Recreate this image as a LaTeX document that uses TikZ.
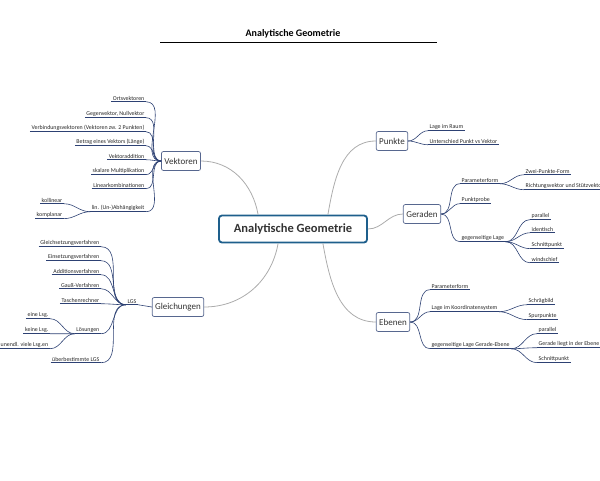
\documentclass[tikz,border=0pt]{standalone}
\usepackage{fontspec}
\setmainfont{Carlito}
\usetikzlibrary{positioning}
\definecolor{lineblue}{RGB}{45,65,115}
\definecolor{boxblue}{RGB}{30,95,140}
\tikzset{
  topic/.style={draw=lineblue!80, line width=0.7pt, rounded corners=2pt, fill=white, font=\fontsize{9}{10}\selectfont, inner sep=3pt, minimum height=19pt, text=black!80},
  uline/.style={draw=lineblue, line width=0.9pt},
  leaf/.style={font=\fontsize{5.9}{6.5}\selectfont, inner sep=1.5pt, text=black!85,
    append after command={(\tikzlastnode.south west) edge[uline] (\tikzlastnode.south east)}},
  main/.style={draw=gray!65, line width=0.8pt},
  branch/.style={draw=lineblue, line width=0.6pt}
}
\begin{document}
\begin{tikzpicture}[x=1pt,y=-1pt]
  \useasboundingbox (0,0) rectangle (600,480);
  \clip (0,0) rectangle (600,480);
  % title
  \node[font=\bfseries\fontsize{10}{12}\selectfont] (title) at (293,34) {Analytische Geometrie};
  \draw[line width=0.6pt] (160,42) coordinate (t1) -- (437,42) coordinate (t2);

  % centre and main topics
  \node[draw=boxblue, line width=1.8pt, rounded corners=3pt, minimum width=148pt, minimum height=27pt,
        font=\bfseries\fontsize{12.5}{14}\selectfont, text=black!80] (geo) at (293,229) {Analytische Geometrie};
  \node[topic] (vek) at (181,161) {Vektoren};
  \node[topic] (gl) at (178,307) {Gleichungen};
  \node[topic] (pu) at (392,141) {Punkte};
  \node[topic] (ge) at (422,214) {Geraden};
  \node[topic] (eb) at (393,322) {Ebenen};

  \draw[main] (geo.north west) ++(40,0) coordinate (g1) (g1) to[out=100,in=0] (vek.east);
  \draw[main] (geo.south west) ++(60,0) coordinate (g2) (g2) to[out=-100,in=0] (gl.east);
  \draw[main] (geo.north east) ++(-40,0) coordinate (g3) (g3) to[out=80,in=180] (pu.west);
  \draw[main] (geo.east) to[out=0,in=180] (ge.west);
  \draw[main] (geo.south east) ++(-45,0) coordinate (g4) (g4) to[out=-80,in=180] (eb.west);

  % Vektoren
  \node[leaf, anchor=base east] (v1) at (146,100) {Ortsvektoren};
  \node[leaf, anchor=base east] (v2) at (146,115) {Gegenvektor, Nullvektor};
  \node[leaf, anchor=base east] (v3) at (146,129) {Verbindungsvektoren (Vektoren zw. 2 Punkten)};
  \node[leaf, anchor=base east] (v4) at (146,143) {Betrag eines Vektors (Länge)};
  \node[leaf, anchor=base east] (v5) at (146,158) {Vektoraddition};
  \node[leaf, anchor=base east] (v6) at (146,172) {skalare Multiplikation};
  \node[leaf, anchor=base east] (v7) at (146,187) {Linearkombinationen};
  \node[leaf, anchor=base east] (v8) at (146,209) {lin. (Un-)Abhängigkeit};
  \node[leaf, anchor=base east] (v81) at (64,202) {kollinear};
  \node[leaf, anchor=base east] (v82) at (64,216) {komplanar};
  \foreach \n in {v1,v2,v3,v4,v5,v6,v7,v8}
    \draw[branch] (vek.west) to[out=180,in=0] (\n.south east);
  \foreach \n in {v81,v82}
    \draw[branch] (v8.south west) to[out=180,in=0] (\n.south east);

  % Gleichungen
  \node[leaf, anchor=base east] (lgs) at (138,303) {LGS};
  \draw[branch] (gl.west) -- (lgs.south east);
  \node[leaf, anchor=base east] (q1) at (101,244) {Gleichsetzungsverfahren};
  \node[leaf, anchor=base east] (q2) at (101,258) {Einsetzungsverfahren};
  \node[leaf, anchor=base east] (q3) at (101,273) {Additionsverfahren};
  \node[leaf, anchor=base east] (q4) at (101,287) {Gauß-Verfahren};
  \node[leaf, anchor=base east] (q5) at (101,302) {Taschenrechner};
  \node[leaf, anchor=base east] (q6) at (101,331) {Lösungen};
  \node[leaf, anchor=base east] (q7) at (101,361) {überbestimmte LGS};
  \node[leaf, anchor=base east] (s1) at (50,316) {eine Lsg.};
  \node[leaf, anchor=base east] (s2) at (50,331) {keine Lsg.};
  \node[leaf, anchor=base east] (s3) at (50,346) {unendl. viele Lsg.en};
  \foreach \n in {q1,q2,q3,q4,q5,q6,q7}
    \draw[branch] (lgs.south west) to[out=180,in=0] (\n.south east);
  \foreach \n in {s1,s2,s3}
    \draw[branch] (q6.south west) to[out=180,in=0] (\n.south east);

  % Punkte
  \node[leaf, anchor=base west] (p1) at (428,128) {Lage im Raum};
  \node[leaf, anchor=base west] (p2) at (428,143) {Unterschied Punkt vs Vektor};
  \foreach \n in {p1,p2}
    \draw[branch] (pu.east) to[out=0,in=180] (\n.south west);

  % Geraden
  \node[leaf, anchor=base west] (r1) at (460,182) {Parameterform};
  \node[leaf, anchor=base west] (r2) at (460,201) {Punktprobe};
  \node[leaf, anchor=base west] (r3) at (460,239) {gegenseitige Lage};
  \foreach \n in {r1,r2,r3}
    \draw[branch] (ge.east) to[out=0,in=180] (\n.south west);
  \node[leaf, anchor=base west] (r11) at (524,173) {Zwei-Punkte-Form};
  \node[leaf, anchor=base west] (r12) at (524,187) {Richtungsvektor und Stützvektor};
  \foreach \n in {r11,r12}
    \draw[branch] (r1.south east) to[out=0,in=180] (\n.south west);
  \node[leaf, anchor=base west] (r31) at (530,217) {parallel};
  \node[leaf, anchor=base west] (r32) at (530,231) {identisch};
  \node[leaf, anchor=base west] (r33) at (530,246) {Schnittpunkt};
  \node[leaf, anchor=base west] (r34) at (530,261) {windschief};
  \foreach \n in {r31,r32,r33,r34}
    \draw[branch] (r3.south east) to[out=0,in=180] (\n.south west);

  % Ebenen
  \node[leaf, anchor=base west] (e1) at (430,288) {Parameterform};
  \node[leaf, anchor=base west] (e2) at (430,309) {Lage im Koordinatensystem};
  \node[leaf, anchor=base west] (e3) at (430,346) {gegenseitige Lage Gerade-Ebene};
  \foreach \n in {e1,e2,e3}
    \draw[branch] (eb.east) to[out=0,in=180] (\n.south west);
  \node[leaf, anchor=base west] (e21) at (527,302) {Schrägbild};
  \node[leaf, anchor=base west] (e22) at (527,317) {Spurpunkte};
  \foreach \n in {e21,e22}
    \draw[branch] (e2.south east) to[out=0,in=180] (\n.south west);
  \node[leaf, anchor=base west] (e31) at (537,331) {parallel};
  \node[leaf, anchor=base west] (e32) at (537,345) {Gerade liegt in der Ebene};
  \node[leaf, anchor=base west] (e33) at (537,360) {Schnittpunkt};
  \foreach \n in {e31,e32,e33}
    \draw[branch] (e3.south east) to[out=0,in=180] (\n.south west);
\end{tikzpicture}
\end{document}
